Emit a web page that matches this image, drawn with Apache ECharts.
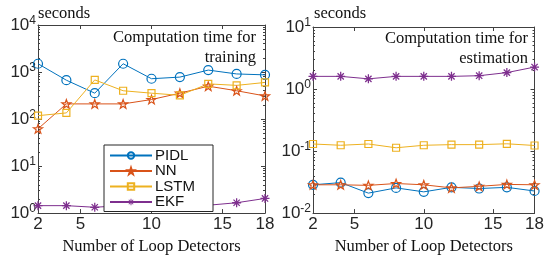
<!DOCTYPE html>
<html>
<head>
<meta charset="utf-8">
<script src="https://cdn.jsdelivr.net/npm/echarts@6/dist/echarts.min.js"></script>
<style>
  html, body { margin: 0; padding: 0; background: #fff; }
  #main { width: 547px; height: 260px; }
</style>
</head>
<body>
<div id="main"></div>
<script>
// detectors on the x axis
var detectors = [2, 4, 6, 8, 10, 12, 14, 16, 18];
var xTicks = [2, 5, 10, 15, 18];

// training time (seconds)
var trainPIDL = [1500, 670, 355, 1500, 720, 780, 1100, 910, 870];
var trainNN = [62, 210, 210, 210, 260, 355, 500, 400, 310];
var trainLSTM = [118, 135, 680, 400, 355, 320, 560, 520, 600];
var trainEKF = [1.44, 1.44, 1.33, 1.45, 1.45, 1.44, 1.47, 1.66, 2.05];

// estimation time (seconds)
var estPIDL = [0.0286, 0.031, 0.021, 0.0255, 0.022, 0.026, 0.0249, 0.026, 0.0227];
var estNN = [0.0286, 0.0286, 0.028, 0.030, 0.0286, 0.0255, 0.027, 0.029, 0.0286];
var estLSTM = [0.130, 0.124, 0.130, 0.113, 0.124, 0.127, 0.127, 0.131, 0.123];
var estEKF = [1.6, 1.6, 1.46, 1.6, 1.6, 1.6, 1.64, 1.84, 2.26];

var trainTicks = [1, 10, 100, 1000, 10000];
var estTicks = [0.01, 0.1, 1, 10];

var colors = { PIDL: '#0072BD', NN: '#D95319', LSTM: '#EDB120', EKF: '#7E2F8E' };
var axisColor = '#404040';
var sans = 'Liberation Sans';
var serif = 'Liberation Serif';
var serifFont = '16.5px "Liberation Serif"';

var starPath = 'path://M0,-10L2.35,-3.24L9.51,-3.09L3.8,1.24L5.88,8.09L0,4L-5.88,8.09L-3.8,1.24L-9.51,-3.09L-2.35,-3.24Z';
var asteriskPath = 'path://M-1.4,-10L1.4,-10L1.4,10L-1.4,10Z M-10,-1.4L10,-1.4L10,1.4L-10,1.4Z ' +
  'M-7.98,-6.0L-6.0,-7.98L7.98,6.0L6.0,7.98Z M6.0,-7.98L7.98,-6.0L-6.0,7.98L-7.98,6.0Z';

function minorTicks(ticks) {
  var out = [];
  for (var i = 0; i < ticks.length - 1; i++) {
    for (var m = 2; m <= 9; m++) out.push(ticks[i] * m);
  }
  return out;
}

function expLabel(v) {
  var e = Math.round(Math.log10(v));
  return '{b|10}{s|' + (e < 0 ? '-' + (-e) : e) + '}';
}

var labelRich = {
  b: { fontFamily: sans, fontSize: 17, color: '#262626' },
  s: { fontFamily: sans, fontSize: 12, color: '#262626', padding: [0, 0, 9, 0] }
};

function xAxes(grid) {
  return [
    {
      gridIndex: grid, type: 'value', min: 2, max: 18, position: 'bottom',
      name: 'Number of Loop Detectors', nameLocation: 'middle', nameGap: 20,
      nameTextStyle: { fontFamily: serif, fontSize: 16.5, color: '#111' },
      axisLine: { lineStyle: { color: axisColor } },
      axisTick: { inside: true, length: 4, customValues: xTicks, lineStyle: { color: axisColor } },
      axisLabel: { customValues: xTicks, margin: 3, fontFamily: sans, fontSize: 17, color: '#262626' },
      splitLine: { show: false }
    },
    {
      gridIndex: grid, type: 'value', min: 2, max: 18, position: 'top',
      axisLine: { lineStyle: { color: axisColor } },
      axisTick: { inside: true, length: 4, customValues: xTicks, lineStyle: { color: axisColor } },
      axisLabel: { show: false },
      splitLine: { show: false }
    }
  ];
}

function yAxes(grid, ticks) {
  var lo = ticks[0], hi = ticks[ticks.length - 1];
  var base = { gridIndex: grid, type: 'log', logBase: 10, min: lo, max: hi, splitLine: { show: false } };
  var list = [];
  ['left', 'right'].forEach(function (pos) {
    list.push(Object.assign({}, base, {
      position: pos,
      axisLine: { show: true, lineStyle: { color: axisColor } },
      axisTick: { inside: true, length: 4, customValues: ticks, lineStyle: { color: axisColor } },
      axisLabel: pos === 'left'
        ? { customValues: ticks, margin: 2, formatter: expLabel, rich: labelRich }
        : { show: false }
    }));
    list.push(Object.assign({}, base, {
      position: pos,
      axisLine: { show: false },
      axisTick: { inside: true, length: 2, customValues: minorTicks(ticks), lineStyle: { color: axisColor } },
      axisLabel: { show: false }
    }));
  });
  return list;
}

function makeSeries(name, data, xIdx, yIdx) {
  var c = colors[name];
  var s = {
    name: name, type: 'line', xAxisIndex: xIdx, yAxisIndex: yIdx,
    data: detectors.map(function (d, i) { return [d, data[i]]; }),
    lineStyle: { color: c, width: 1 },
    symbolKeepAspect: true,
    itemStyle: { color: 'rgba(255,255,255,0)', borderColor: c, borderWidth: 1.2 },
    emphasis: { disabled: true },
    animation: false
  };
  if (name === 'PIDL') { s.symbol = 'circle'; s.symbolSize = 9; }
  if (name === 'NN') { s.symbol = starPath; s.symbolSize = 9; }
  if (name === 'LSTM') { s.symbol = 'rect'; s.symbolSize = 7; }
  if (name === 'EKF') {
    s.symbol = asteriskPath; s.symbolSize = 9;
    s.itemStyle = { color: c, borderWidth: 0 };
  }
  return s;
}

var chart = echarts.init(document.getElementById('main'));

var option = {
  animation: false,
  grid: [
    { left: 38, right: 282, top: 25, bottom: 33 },
    { left: 313, right: 7, top: 27, bottom: 33 }
  ],
  xAxis: xAxes(0).concat(xAxes(1)),
  yAxis: yAxes(0, trainTicks).concat(yAxes(1, estTicks)),
  legend: {
    data: ['PIDL', 'NN', 'LSTM', 'EKF'],
    orient: 'vertical', left: 104, top: 145,
    itemWidth: 42, itemHeight: 8, itemGap: 0.5,
    padding: [3, 18, 2, 5],
    borderColor: '#262626', borderWidth: 1, backgroundColor: '#fff',
    textStyle: { fontFamily: sans, fontSize: 15, color: '#111', padding: [0, 0, 0, -2], lineHeight: 14.5 }
  },
  graphic: [
    { type: 'text', left: 38, top: 5, style: { text: 'seconds', font: serifFont, fill: '#111' } },
    { type: 'text', left: 314, top: 5, style: { text: 'seconds', font: serifFont, fill: '#111' } },
    { type: 'text', x: 256, y: 28, style: { text: 'Computation time for\ntraining', align: 'right', lineHeight: 20, font: serifFont, fill: '#111' } },
    { type: 'text', x: 528, y: 29, style: { text: 'Computation time for\nestimation', align: 'right', lineHeight: 20, font: serifFont, fill: '#111' } }
  ],
  series: [
    makeSeries('PIDL', trainPIDL, 0, 0),
    makeSeries('NN', trainNN, 0, 0),
    makeSeries('LSTM', trainLSTM, 0, 0),
    makeSeries('EKF', trainEKF, 0, 0),
    makeSeries('PIDL', estPIDL, 2, 4),
    makeSeries('NN', estNN, 2, 4),
    makeSeries('LSTM', estLSTM, 2, 4),
    makeSeries('EKF', estEKF, 2, 4)
  ]
};

chart.setOption(option);
</script>
</body>
</html>
